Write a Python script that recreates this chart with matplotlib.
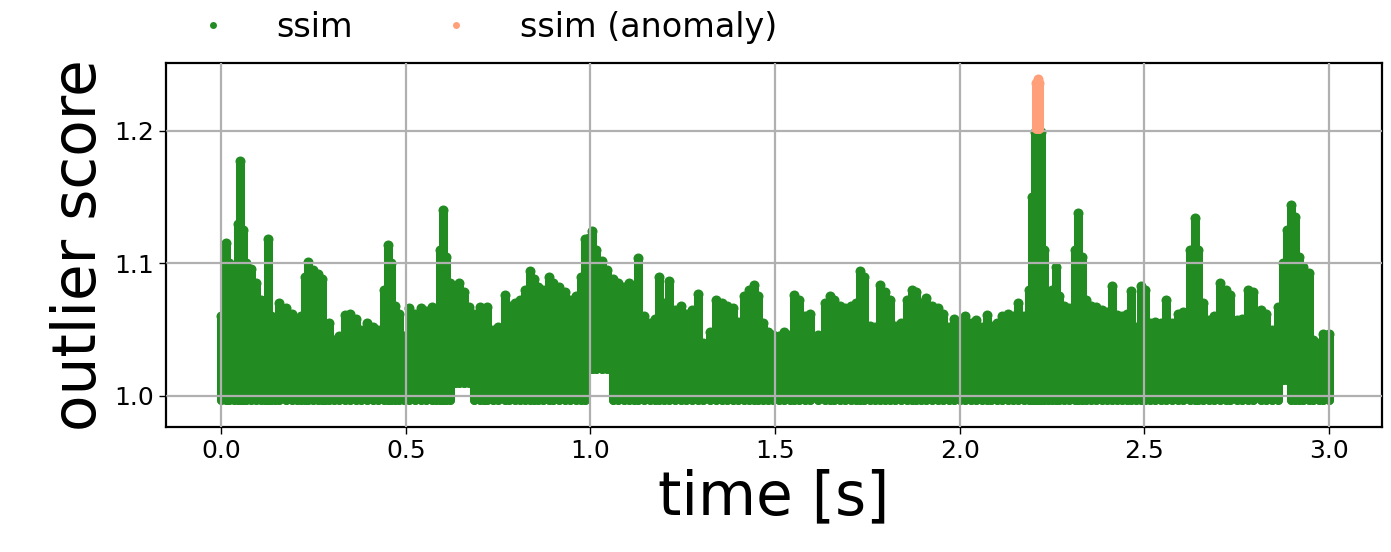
import numpy as np
import matplotlib
matplotlib.use("Agg")
import matplotlib.pyplot as plt
from matplotlib.lines import Line2D

# ---- data (column centres of the dense scatter) ----
time_s = [0.000, 0.014, 0.022, 0.035, 0.045, 0.051, 0.058, 0.068, 0.082, 0.095,
          0.108, 0.118, 0.127, 0.136, 0.145, 0.158, 0.175, 0.192, 0.205, 0.215,
          0.226, 0.236, 0.248, 0.262, 0.272, 0.281, 0.293, 0.305, 0.318, 0.335,
          0.350, 0.365, 0.380, 0.395, 0.410, 0.425, 0.440, 0.451, 0.460, 0.470,
          0.482, 0.495, 0.510, 0.525, 0.540, 0.555, 0.570, 0.582, 0.593, 0.602,
          0.610, 0.620, 0.632, 0.645, 0.658, 0.670, 0.685, 0.700, 0.712, 0.721,
          0.735, 0.750, 0.768, 0.780, 0.795, 0.808, 0.822, 0.836, 0.846, 0.858,
          0.872, 0.888, 0.900, 0.915, 0.930, 0.945, 0.960, 0.975, 0.985, 0.995,
          1.005, 1.015, 1.030, 1.045, 1.060, 1.075, 1.090, 1.105, 1.118, 1.130,
          1.145, 1.160, 1.175, 1.186, 1.200, 1.213, 1.228, 1.245, 1.260, 1.275,
          1.290, 1.305, 1.325, 1.340, 1.355, 1.370, 1.385, 1.400, 1.415, 1.430,
          1.443, 1.455, 1.468, 1.480, 1.495, 1.510, 1.525, 1.540, 1.552, 1.565,
          1.580, 1.595, 1.615, 1.635, 1.648, 1.660, 1.675, 1.690, 1.705, 1.718,
          1.730, 1.742, 1.758, 1.770, 1.785, 1.798, 1.810, 1.825, 1.840, 1.858,
          1.870, 1.882, 1.895, 1.910, 1.925, 1.940, 1.955, 1.970, 1.985, 2.000,
          2.015, 2.030, 2.045, 2.060, 2.073, 2.085, 2.100, 2.115, 2.130, 2.145,
          2.158, 2.175, 2.188, 2.196, 2.204, 2.212, 2.220, 2.228, 2.238, 2.250,
          2.260, 2.270, 2.282, 2.295, 2.312, 2.321, 2.330, 2.342, 2.355, 2.370,
          2.385, 2.400, 2.412, 2.425, 2.440, 2.452, 2.465, 2.478, 2.492, 2.503,
          2.515, 2.530, 2.545, 2.560, 2.575, 2.590, 2.605, 2.625, 2.636, 2.645,
          2.660, 2.675, 2.690, 2.705, 2.720, 2.732, 2.750, 2.765, 2.780, 2.795,
          2.815, 2.830, 2.845, 2.862, 2.875, 2.885, 2.897, 2.907, 2.918, 2.930,
          2.945, 2.958, 2.972, 2.985, 3.000]

score_top = [1.060, 1.115, 1.100, 1.098, 1.130, 1.177, 1.125, 1.100, 1.096, 1.085,
             1.072, 1.070, 1.118, 1.060, 1.047, 1.070, 1.066, 1.062, 1.050, 1.060,
             1.090, 1.101, 1.095, 1.092, 1.088, 1.053, 1.055, 1.042, 1.045, 1.061,
             1.062, 1.058, 1.050, 1.055, 1.052, 1.050, 1.080, 1.114, 1.100, 1.068,
             1.062, 1.045, 1.066, 1.062, 1.066, 1.064, 1.067, 1.060, 1.110, 1.140,
             1.105, 1.085, 1.082, 1.085, 1.078, 1.067, 1.062, 1.067, 1.060, 1.067,
             1.050, 1.052, 1.076, 1.068, 1.070, 1.072, 1.080, 1.094, 1.088, 1.082,
             1.080, 1.090, 1.085, 1.082, 1.078, 1.072, 1.075, 1.090, 1.118, 1.119,
             1.124, 1.110, 1.102, 1.095, 1.088, 1.085, 1.082, 1.085, 1.080, 1.104,
             1.060, 1.055, 1.058, 1.090, 1.070, 1.087, 1.065, 1.068, 1.062, 1.065,
             1.077, 1.040, 1.048, 1.072, 1.070, 1.068, 1.066, 1.056, 1.075, 1.080,
             1.084, 1.075, 1.055, 1.048, 1.046, 1.045, 1.048, 1.046, 1.076, 1.072,
             1.060, 1.062, 1.046, 1.070, 1.075, 1.072, 1.068, 1.066, 1.068, 1.070,
             1.094, 1.090, 1.053, 1.052, 1.084, 1.078, 1.072, 1.053, 1.055, 1.072,
             1.080, 1.078, 1.070, 1.074, 1.068, 1.066, 1.062, 1.052, 1.058, 1.050,
             1.060, 1.055, 1.057, 1.052, 1.061, 1.053, 1.055, 1.060, 1.062, 1.060,
             1.070, 1.060, 1.080, 1.150, 1.199, 1.199, 1.199, 1.110, 1.075, 1.080,
             1.097, 1.075, 1.068, 1.066, 1.110, 1.138, 1.105, 1.072, 1.068, 1.067,
             1.065, 1.063, 1.083, 1.061, 1.060, 1.062, 1.079, 1.052, 1.083, 1.080,
             1.055, 1.056, 1.055, 1.072, 1.055, 1.062, 1.063, 1.110, 1.134, 1.110,
             1.070, 1.057, 1.060, 1.085, 1.080, 1.076, 1.057, 1.058, 1.080, 1.078,
             1.065, 1.062, 1.050, 1.067, 1.100, 1.125, 1.144, 1.135, 1.105, 1.097,
             1.093, 1.042, 1.040, 1.047, 1.047]

# lower edge of the point cloud: a base level plus a few raised stretches
floor_base = 0.997
raised_start = [0.625, 0.995, 2.875]
raised_end = [0.670, 1.050, 2.895]
raised_level = [1.010, 1.020, 1.012]

# anomaly points (above 1.2)
anomaly_time = [2.207, 2.211, 2.215]
anomaly_top = [1.236, 1.239, 1.236]
anomaly_bottom = [1.201, 1.201, 1.201]

xticks = [0.0, 0.5, 1.0, 1.5, 2.0, 2.5, 3.0]
yticks = [1.0, 1.1, 1.2]

GREEN = "forestgreen"
SALMON = "lightsalmon"

t = np.array(time_s)
top = np.array(score_top)
bottom = np.full_like(t, floor_base)
for s, e, lv in zip(raised_start, raised_end, raised_level):
    bottom[(t >= s) & (t <= e)] = lv

fig = plt.figure(figsize=(13.91, 5.52), dpi=100)
ax = fig.add_axes([0.1193, 0.2264, 0.8742, 0.66])

ax.fill_between(t, bottom, top, step="mid", color=GREEN, linewidth=0, zorder=2)
ax.vlines(t, bottom, top, colors=GREEN, linewidth=6.5, capstyle="round", zorder=2)
ax.scatter(t, top, s=52, color=GREEN, linewidths=0, zorder=2)
ax.scatter(t, bottom, s=40, color=GREEN, linewidths=0, zorder=2)

at = np.array(anomaly_time)
ax.fill_between(at, anomaly_bottom, anomaly_top, step="mid", color=SALMON,
                linewidth=0, zorder=3)
ax.vlines(at, anomaly_bottom, anomaly_top, colors=SALMON, linewidth=6.5,
          capstyle="round", zorder=3)
ax.scatter(at, anomaly_top, s=52, color=SALMON, linewidths=0, zorder=3)

ax.set_xlim(-0.1495, 3.1435)
ax.set_ylim(0.9766, 1.2512)
ax.set_xticks(xticks)
ax.set_yticks(yticks)
ax.tick_params(labelsize=18, length=5, width=1)
ax.grid(True, color="#b0b0b0", linewidth=1.6)
ax.set_axisbelow(False)
for sp in ax.spines.values():
    sp.set_linewidth(1.6)

ax.set_xlabel("time [s]", fontsize=43)
ax.set_ylabel("outlier score", fontsize=43)

handles = [Line2D([], [], linestyle="none", marker="o", markersize=5,
                  color=GREEN, markeredgewidth=0),
           Line2D([], [], linestyle="none", marker="o", markersize=5,
                  color=SALMON, markeredgewidth=0)]
ax.legend(handles, ["ssim", "ssim (anomaly)"], loc="center",
          bbox_to_anchor=(0.257, 1.098), ncol=2, frameon=False, fontsize=24,
          columnspacing=2.1, handletextpad=0.9)

fig.savefig("out.png", dpi=100)
